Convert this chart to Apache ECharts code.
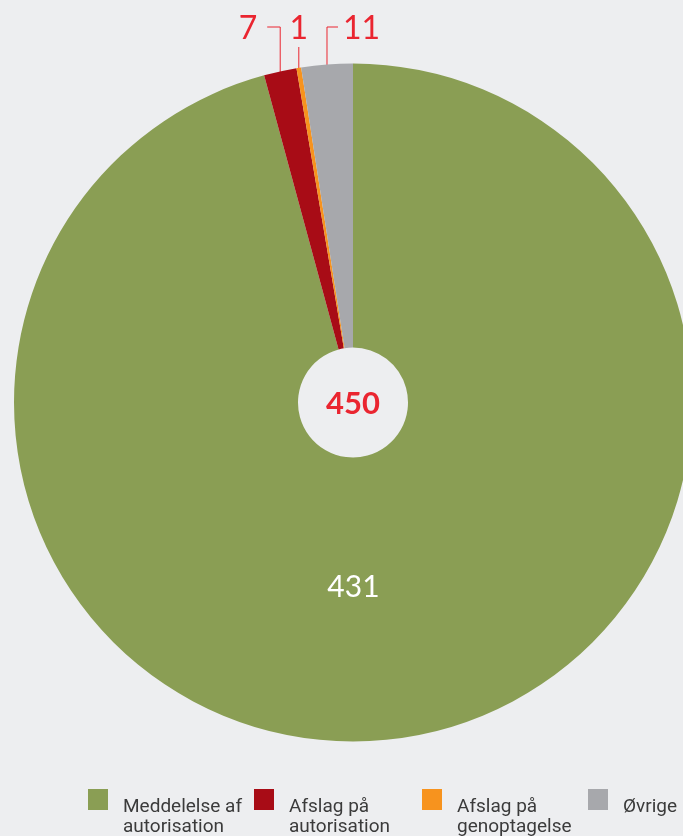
<!DOCTYPE html>
<html>
<head>
<meta charset="utf-8">
<script src="https://cdn.jsdelivr.net/npm/echarts@6/dist/echarts.min.js"></script>
<style>
  html, body { margin: 0; padding: 0; background: #edeef0; }
  #chart { width: 683px; height: 836px; }
</style>
</head>
<body>
<div id="chart"></div>
<script>
// ---- data ----
var categories = ['Meddelelse af autorisation', 'Afslag på autorisation', 'Afslag på genoptagelse', 'Øvrige'];
var legendLine1 = ['Meddelelse af', 'Afslag på', 'Afslag på', 'Øvrige'];
var legendLine2 = ['autorisation', 'autorisation', 'genoptagelse', ''];
var values = [431, 7, 1, 11];
var colors = ['#8a9e54', '#a80c16', '#f7931e', '#a7a8ac'];

var total = values.reduce(function (a, b) { return a + b; }, 0);

var RED_TEXT = '#ea2530';
var NUM_FONT = 'Lato, "Open Sans", sans-serif';
var LEG_FONT = 'Roboto, "Open Sans", sans-serif';

// leader line style per small slice: side of label, depth into the slice
var leader = {
  1: { side: 'left', depth: 10 },
  2: { side: 'top', depth: 4 },
  3: { side: 'right', depth: 17 }
};
var LABEL_Y = 29, LINE_Y = 27, LINE_TOP_1 = 47;

var chart = echarts.init(document.getElementById('chart'), null, { renderer: 'canvas' });

var seriesData = categories.map(function (c, i) {
  var d = { name: c, value: values[i], itemStyle: { color: colors[i] } };
  if (i === 0) {
    d.label = {
      position: 'inside', color: '#ffffff', fontSize: 30, fontFamily: NUM_FONT,
      offset: [-26, -13]
    };
    d.labelLine = { show: false };
  }
  return d;
});

var legendLefts = [88, 254, 422, 588];
var legends = categories.map(function (c, i) {
  return {
    data: [c],
    left: legendLefts[i],
    top: 762,
    padding: 0,
    orient: 'horizontal',
    icon: 'rect',
    itemWidth: 20,
    itemHeight: 21,
    itemStyle: { borderWidth: 0 },
    selectedMode: false,
    formatter: function () {
      return '{gap| }\n{t|' + legendLine1[i] + '}\n{t|' + (legendLine2[i] || ' ') + '}';
    },
    textStyle: {
      color: '#3b3b3b', fontSize: 19, fontFamily: LEG_FONT,
      padding: [0, 0, 0, 10],
      rich: {
        gap: { height: 35, lineHeight: 35, fontSize: 10 },
        t: { color: '#3b3b3b', fontSize: 19, lineHeight: 20, fontFamily: LEG_FONT }
      }
    }
  };
});

var option = {
  backgroundColor: '#edeef0',
  animation: false,
  legend: legends,
  graphic: [{
    type: 'text',
    x: 353, y: 404,
    z: 100,
    style: {
      text: String(total),
      fill: RED_TEXT,
      font: 'bold 31px ' + NUM_FONT,
      align: 'center',
      verticalAlign: 'middle'
    }
  }],
  series: [{
    type: 'pie',
    center: [353, 402.5],
    radius: [55, 339],
    startAngle: 90,
    clockwise: true,
    avoidLabelOverlap: false,
    itemStyle: { borderWidth: 0 },
    label: {
      show: true,
      position: 'outside',
      formatter: '{c}',
      color: RED_TEXT,
      fontSize: 32,
      fontFamily: NUM_FONT
    },
    labelLine: {
      show: true,
      length: 20,
      length2: 10,
      lineStyle: { color: RED_TEXT, width: 1 }
    },
    emphasis: { disabled: true },
    labelLayout: function (p) {
      var cfg = leader[p.dataIndex];
      if (!cfg || !p.labelLinePoints) return {};
      var ax = p.labelLinePoints[0][0];
      var ay = p.labelLinePoints[0][1] + cfg.depth;
      if (cfg.side === 'left') {
        return {
          x: ax - 23, y: LABEL_Y, align: 'right', verticalAlign: 'middle',
          labelLinePoints: [[ax, ay], [ax, LINE_Y], [ax - 13, LINE_Y]]
        };
      } else if (cfg.side === 'right') {
        return {
          x: ax + 16, y: LABEL_Y, align: 'left', verticalAlign: 'middle',
          labelLinePoints: [[ax, ay], [ax, LINE_Y], [ax + 11, LINE_Y]]
        };
      }
      return {
        x: ax, y: LABEL_Y, align: 'center', verticalAlign: 'middle',
        labelLinePoints: [[ax, ay], [ax, LINE_TOP_1], [ax, LINE_TOP_1]]
      };
    },
    data: seriesData
  }]
};

chart.setOption(option);
</script>
</body>
</html>
